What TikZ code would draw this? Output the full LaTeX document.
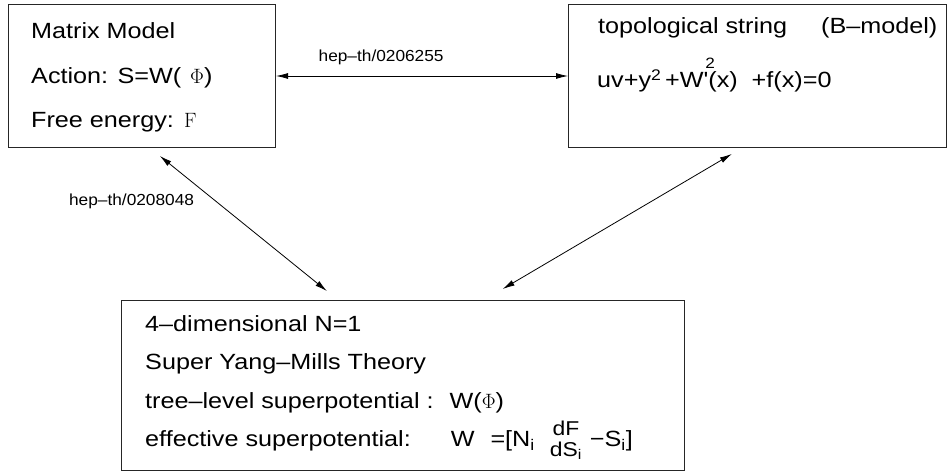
\documentclass[tikz,border=0pt]{standalone}
\usepackage[no-math]{fontspec}
\setmainfont{Liberation Sans}
\newfontfamily\boxfont{Liberation Sans}[FakeStretch=1.145]
\newfontfamily\refsfont{Liberation Sans}[FakeStretch=1.08]
\usetikzlibrary{arrows.meta}

\tikzstyle{block} = [
rectangle,
anchor=north west,
inner sep=0pt,
draw=black!85,
line width=1pt
]
\tikzstyle{textline} = [
anchor=base west,
inner sep=0pt,
font=\boxfont\fontsize{22}{26}\selectfont
]
\tikzstyle{reflabel} = [
inner sep=0pt,
font=\refsfont\fontsize{16}{19}\selectfont
]
\tikzstyle{arrow} = [
line width=0.8pt,
{Latex[length=12pt,width=6pt]}-{Latex[length=12pt,width=6pt]}
]

\begin{document}
\begin{tikzpicture}[
x=1pt,
y=-1pt
]
\useasboundingbox (0,0) rectangle (948,473);

% Nodes
\node (matrix) [block, minimum width=267pt, minimum height=143pt] at (8,4) {};
\node (topo) [block, minimum width=378pt, minimum height=143pt] at (568,4) {};
\node (sym) [block, minimum width=563pt, minimum height=170pt] at (121,300) {};

\node (mm1) [textline] at (31,39) {Matrix Model};
\node (mm2) [textline] at (31,84) {Action: S=W(\hspace{9pt}$\Phi$)};
\node (mm3) [textline] at (31,128) {Free energy:\hspace{10pt}$\mathrm{F}$};

\node (ts1) [textline] at (598,34) {topological string\hspace{34pt}(B\textendash model)};
\node (ts2) [textline] at (597,88)
{uv+y\textsuperscript{2}\,+W'\kern-3pt\rlap{\raisebox{19pt}{\fontsize{15}{15}\selectfont 2}}\kern3pt(x)\ \ +f(x)=0};

\node (sy1) [textline] at (145,331) {4\textendash dimensional N=1};
\node (sy2) [textline] at (145,369) {Super Yang\textendash Mills Theory};
\node (sy3) [textline] at (145,408) {tree\textendash level superpotential :\hspace{16pt}W($\Phi$)};
\node (sy4) [textline] at (145,446)
{effective superpotential:\hspace{40pt}W\hspace{16pt}=[N\textsubscript{i}\hspace{15pt}%
\raisebox{-1pt}{\fontsize{20}{21}\selectfont\begin{tabular}{@{}c@{}}dF\\dS\textsubscript{i}\end{tabular}}%
\hspace{8pt}−S\textsubscript{i}]};

% Arrows
\draw [arrow] (matrix.east) -- (topo.west)
node [reflabel, pos=0.36, anchor=base, yshift=14.5pt] (ref1) {hep\textendash th/0206255};
\draw [arrow, shorten <=12.7pt, shorten >=14.3pt]
([xshift=142pt]matrix.south west) -- ([xshift=217pt]sym.north west)
node [reflabel, pos=0.38, anchor=base east, xshift=-27pt] (ref2) {hep\textendash th/0208048};
\draw [arrow, shorten <=11.8pt, shorten >=21.7pt]
([xshift=174pt]topo.south west) -- ([xshift=363pt]sym.north west);

\end{tikzpicture}
\end{document}
